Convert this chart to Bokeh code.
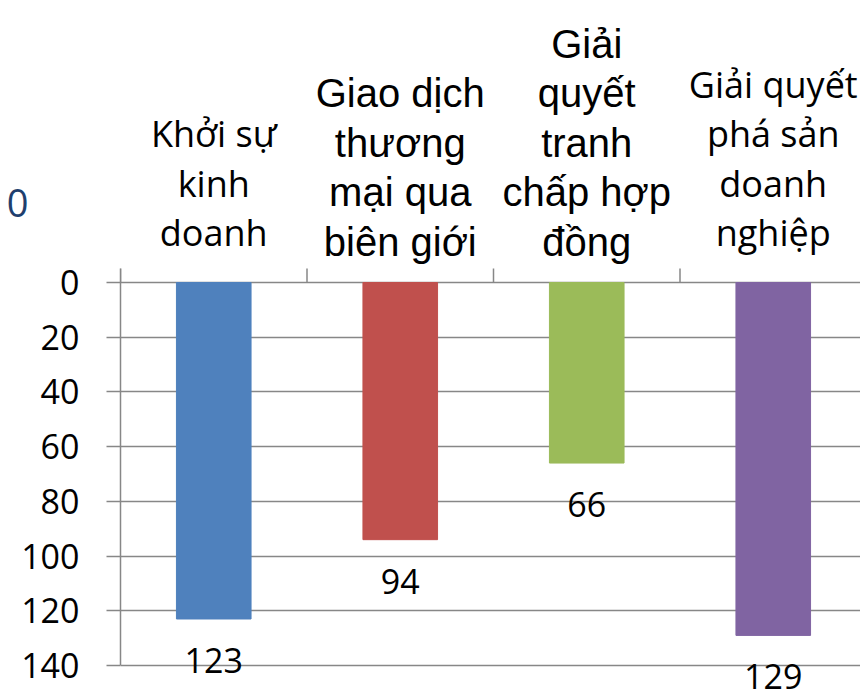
from bokeh.plotting import figure
from bokeh.models import Range1d, FixedTicker, Label, LabelSet, ColumnDataSource, LinearAxis
from bokeh.core.properties import value
from bokeh.embed import file_html
from bokeh.resources import INLINE

# ---- data ----
categories = ["Khởi sự kinh doanh",
              "Giao dịch thương mại qua biên giới",
              "Giải quyết tranh chấp hợp đồng",
              "Giải quyết phá sản doanh nghiệp"]
category_lines = [["Khởi sự", "kinh", "doanh"],
                  ["Giao dịch", "thương", "mại qua", "biên giới"],
                  ["Giải", "quyết", "tranh", "chấp hợp", "đồng"],
                  ["Giải quyết", "phá sản", "doanh", "nghiệp"]]
values = [123, 94, 66, 129]
y_ticks = [0, 20, 40, 60, 80, 100, 120, 140]
fragment_text = "0"

# ---- styles ----
bar_colors = ["#4F81BD", "#C0504D", "#9BBB59", "#8064A2"]
cat_fonts = ["Open Sans", "Liberation Sans", "Liberation Sans", "Open Sans"]
cat_sizes = ["36px", "40px", "40px", "36px"]
cat_last_baseline = [232, 241, 241, 232]
line_gap = 49.5
axis_gray = "#878787"

W, H = 860, 691
LEFT, TOP, BOTTOM = 120, 282, 665
cat_w = 186.5
x_end = (W - LEFT) / cat_w
y_scale = (BOTTOM - TOP) / 140.0


def px_to_y(py):
    return (py - TOP) / y_scale


p = figure(width=W, height=H,
           x_range=Range1d(0, x_end),
           y_range=Range1d(px_to_y(H), px_to_y(0)),
           x_axis_location=None,
           output_backend="svg", toolbar_location=None,
           min_border_left=LEFT, min_border_top=0,
           min_border_bottom=0, min_border_right=0)
p.outline_line_color = None
p.background_fill_color = "white"
p.border_fill_color = "white"

xs = [i + 0.5 for i in range(len(categories))]
src = ColumnDataSource(dict(x=xs, top=values, color=bar_colors,
                            label=[str(v) for v in values]))
p.vbar(x="x", top="top", bottom=0, width=0.4, color="color", source=src)

# value axis (0 at the top)
ya = p.yaxis[0]
ya.ticker = FixedTicker(ticks=y_ticks)
ya.bounds = (px_to_y(268), 140)
ya.major_tick_out = 14
ya.major_tick_in = 0
ya.minor_tick_line_color = None
ya.axis_line_color = axis_gray
ya.axis_line_width = 1.5
ya.major_tick_line_color = axis_gray
ya.major_tick_line_width = 1.5
ya.major_label_text_font = "Open Sans"
ya.major_label_text_font_size = "34px"
ya.major_label_text_color = "black"
ya.major_label_standoff = 27

p.xgrid.visible = False
p.ygrid.ticker = FixedTicker(ticks=y_ticks)
p.ygrid.grid_line_color = axis_gray
p.ygrid.grid_line_width = 1.5

# category axis tick marks between categories (pointing up from the 0 line)
bounds_x = list(range(len(categories) + 1))
p.segment(x0=bounds_x, x1=bounds_x, y0=[0] * len(bounds_x),
          y1=[px_to_y(268)] * len(bounds_x),
          line_color=axis_gray, line_width=1.5)

# data labels below bars
labels = LabelSet(x="x", y="top", text="label", source=src,
                  text_align="center", text_baseline="alphabetic",
                  y_offset=-54, text_font=value("Open Sans"),
                  text_font_size="34px", text_color="black")
p.add_layout(labels)

# category labels above the 0 line
for i, lines in enumerate(category_lines):
    n = len(lines)
    for j, line in enumerate(lines):
        py = cat_last_baseline[i] - (n - 1 - j) * line_gap
        p.add_layout(Label(x=xs[i], y=px_to_y(py), text=line,
                           text_align="center", text_baseline="alphabetic",
                           text_font=cat_fonts[i], text_font_size=cat_sizes[i],
                           text_color="black"))

# cut-off title fragment at the far left (outer left axis with one label)
frag_y = px_to_y(202)
fa = LinearAxis(ticker=FixedTicker(ticks=[frag_y]),
                major_label_overrides={frag_y: fragment_text},
                axis_line_color=None, major_tick_line_color=None,
                minor_tick_line_color=None,
                major_tick_out=0, major_tick_in=0,
                major_label_standoff=-10,
                major_label_text_font="Open Sans",
                major_label_text_font_size="38px",
                major_label_text_color="#1F3F6E")
p.add_layout(fa, "left")

open("out.html", "w").write(file_html(p, INLINE))
